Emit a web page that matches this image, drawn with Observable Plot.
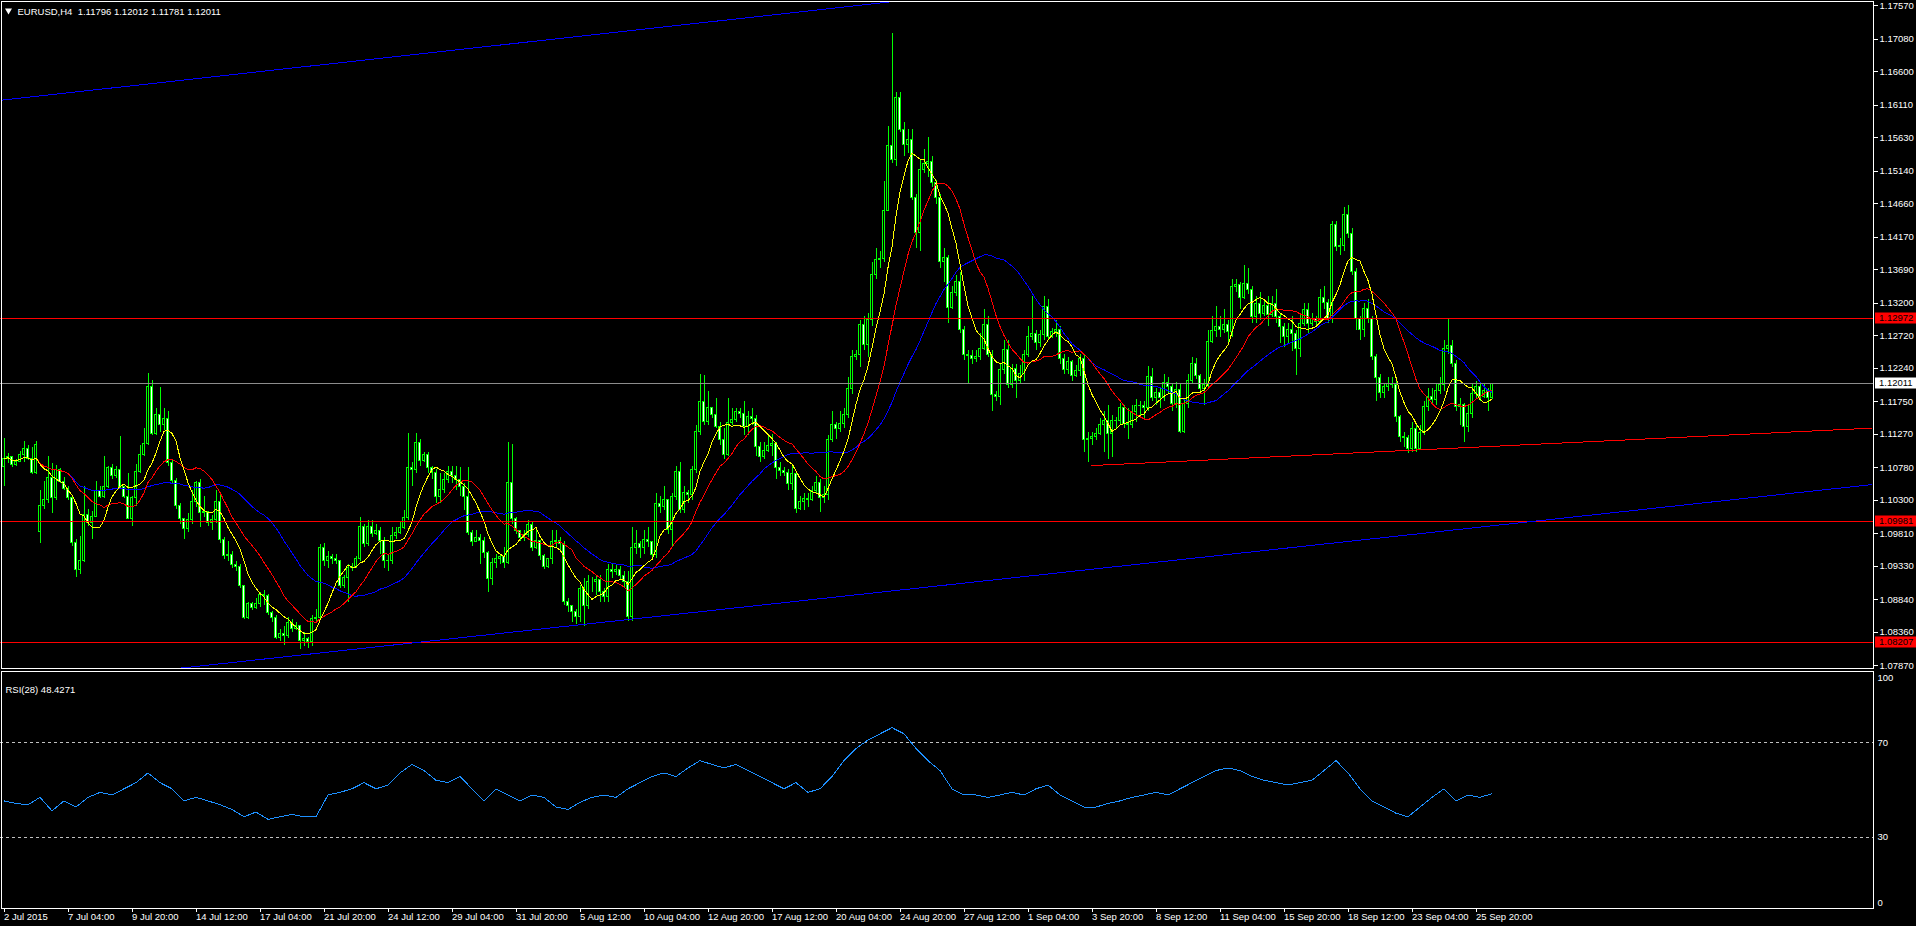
<!DOCTYPE html>
<html><head><meta charset="utf-8">
<script src="https://cdn.jsdelivr.net/npm/d3@7"></script>
<script src="https://cdn.jsdelivr.net/npm/@observablehq/plot@0.6"></script>
<style>
html,body{margin:0;padding:0;background:#000;overflow:hidden}
#wrap{position:relative;width:1916px;height:926px;background:#000}
#main{position:absolute;left:0;top:0;z-index:2}
#rsi{position:absolute;left:0;top:669px;z-index:1}
svg{display:block}
</style></head><body><div id="wrap"><div id="main"></div><div id="rsi"></div></div>
<script>
// ---------------- data (EURUSD H4, bar 0 = 2 Jul 2015 12:00) ----------------
const open = [1.1079,1.1091,1.1094,1.1082,1.1086,1.1096,1.1106,1.1091,1.1070,1.0984,
1.1021,1.1030,1.1062,1.1033,1.1074,1.1057,1.1047,1.1033,1.0967,1.0928,
1.0940,1.1008,1.0996,1.1006,1.1043,1.1035,1.1050,1.1077,1.1065,1.1075,
1.1050,1.1035,1.1003,1.1033,1.1072,1.1096,1.1113,1.1196,1.1128,1.1155,
1.1140,1.1150,1.1085,1.1059,1.1021,1.1003,1.0987,1.1001,1.1028,1.1055,
1.1011,1.1013,1.0996,1.1001,1.1028,1.0972,1.0948,1.0950,1.0935,1.0932,
1.0904,1.0857,1.0877,1.0872,1.0877,1.0891,1.0889,1.0864,1.0857,1.0828,
1.0833,1.0830,1.0850,1.0840,1.0845,1.0823,1.0826,1.0821,1.0855,1.0857,
1.0960,1.0940,1.0946,1.0944,1.0940,1.0904,1.0916,1.0930,1.0932,1.0943,
1.0991,1.0965,1.0991,1.0981,1.0985,1.0970,1.0941,1.0940,1.0977,1.0982,
1.0989,1.1004,1.1077,1.1074,1.1114,1.1087,1.1096,1.1077,1.1070,1.1035,
1.1045,1.1060,1.1072,1.1065,1.1060,1.1050,1.1035,1.0982,1.0968,1.0975,
1.0970,1.0953,1.0914,1.0938,1.0943,1.0946,1.0938,1.1055,1.1002,1.0985,
1.0975,1.0979,1.0994,1.0960,1.0970,1.0948,1.0932,1.0943,1.0968,1.0970,
1.0965,1.0880,1.0875,1.0866,1.0858,1.0900,1.0875,1.0910,1.0910,1.0913,
1.0895,1.0888,1.0927,1.0925,1.0928,1.0918,1.0910,1.0858,1.0960,1.0965,
1.0960,1.0972,1.0968,1.0950,1.1025,1.1020,1.1030,1.0986,1.1035,1.1072,
1.1016,1.1040,1.1037,1.1075,1.1130,1.1175,1.1145,1.1165,1.1155,1.1138,
1.1118,1.1096,1.1143,1.1148,1.1160,1.1157,1.1138,1.1152,1.1150,1.1108,
1.1093,1.1103,1.1110,1.1113,1.1078,1.1073,1.1070,1.1054,1.1068,1.1017,
1.1027,1.1032,1.1030,1.1043,1.1055,1.1034,1.1038,1.1118,1.1140,1.1135,
1.1142,1.1155,1.1194,1.1241,1.1243,1.1288,1.1258,1.1295,1.1361,1.1383,
1.1385,1.1455,1.1551,1.1531,1.1622,1.1575,1.1553,1.1560,1.1474,1.1423,
1.1516,1.1524,1.1527,1.1497,1.1474,1.1381,1.1386,1.1312,1.1334,1.1351,
1.1280,1.1243,1.1242,1.1238,1.1240,1.1253,1.1287,1.1243,1.1184,1.1182,
1.1221,1.1251,1.1199,1.1223,1.1205,1.1215,1.1243,1.1270,1.1275,1.1261,
1.1273,1.1314,1.1270,1.1277,1.1280,1.1238,1.1221,1.1233,1.1212,1.1220,
1.1238,1.1118,1.1120,1.1123,1.1128,1.1140,1.1147,1.1128,1.1146,1.1147,
1.1165,1.1142,1.1140,1.1160,1.1168,1.1169,1.1165,1.1211,1.1181,1.1187,
1.1180,1.1202,1.1196,1.1172,1.1192,1.1130,1.1172,1.1206,1.1230,1.1213,
1.1194,1.1200,1.1263,1.1279,1.1285,1.1280,1.1288,1.1277,1.1343,1.1346,
1.1328,1.1348,1.1339,1.1299,1.1319,1.1304,1.1316,1.1302,1.1319,1.1299,
1.1284,1.1270,1.1280,1.1275,1.1253,1.1289,1.1310,1.1289,1.1297,1.1292,
1.1328,1.1320,1.1297,1.1434,1.1402,1.1404,1.1449,1.1422,1.1365,1.1297,
1.1280,1.1311,1.1297,1.1241,1.1210,1.1187,1.1196,1.1201,1.1200,1.1152,
1.1123,1.1122,1.1105,1.1135,1.1106,1.1129,1.1167,1.1182,1.1178,1.1191,
1.1199,1.1253,1.1257,1.1231,1.1167,1.1170,1.1138,1.1157,1.1186,1.1196,
1.1182,1.1191,1.11796];
const high = [1.1121,1.1099,1.1095,1.1090,1.1101,1.1116,1.1111,1.1108,1.1116,1.1045,
1.1057,1.1094,1.1084,1.1081,1.1077,1.1064,1.1050,1.1035,1.0972,1.0977,
1.1050,1.1016,1.1013,1.1057,1.1050,1.1094,1.1079,1.1082,1.1079,1.1123,
1.1050,1.1069,1.1035,1.1082,1.1111,1.1135,1.1216,1.1206,1.1165,1.1196,
1.1165,1.1160,1.1088,1.1062,1.1025,1.1003,1.1010,1.1045,1.1057,1.1060,
1.1035,1.1013,1.1008,1.1045,1.1040,1.0975,1.0970,1.0955,1.0940,1.0935,
1.0905,1.0880,1.0880,1.0885,1.0895,1.0897,1.0892,1.0867,1.0860,1.0840,
1.0845,1.0857,1.0855,1.0850,1.0845,1.0835,1.0828,1.0860,1.0870,1.0965,
1.0967,1.0955,1.0950,1.0950,1.0940,1.0920,1.0935,1.0937,1.0948,1.1005,
1.0995,1.1000,1.1000,1.0995,1.0990,1.0975,1.0950,1.0990,1.0990,1.0998,
1.1015,1.1128,1.1085,1.1128,1.1120,1.1100,1.1100,1.1080,1.1075,1.1070,
1.1070,1.1080,1.1080,1.1080,1.1078,1.1055,1.1078,1.0985,1.0985,1.0980,
1.0975,1.0955,1.0945,1.0950,1.0950,1.0960,1.1115,1.1112,1.1005,1.0985,
1.0985,1.1000,1.0998,1.0985,1.0970,1.0950,1.0945,1.0985,1.0985,1.0975,
1.0970,1.0885,1.0875,1.0870,1.0905,1.0915,1.0920,1.0917,1.0920,1.0920,
1.0900,1.0935,1.0935,1.0935,1.0932,1.0925,1.0925,1.0990,1.0985,1.0970,
1.0985,1.0990,1.0970,1.1040,1.1035,1.1050,1.1030,1.1040,1.1080,1.1085,
1.1050,1.1045,1.1080,1.1140,1.1215,1.1213,1.1190,1.1165,1.1180,1.1145,
1.1135,1.1180,1.1165,1.1165,1.1165,1.1175,1.1160,1.1165,1.1155,1.1115,
1.1115,1.1125,1.1127,1.1115,1.1085,1.1078,1.1075,1.1080,1.1070,1.1035,
1.1040,1.1040,1.1050,1.1065,1.1060,1.1050,1.1125,1.1160,1.1145,1.1160,
1.1165,1.1210,1.1250,1.1250,1.1295,1.1300,1.1305,1.1380,1.1400,1.1395,
1.1499,1.1580,1.1717,1.1630,1.1630,1.1585,1.1575,1.1575,1.1480,1.1530,
1.1545,1.1563,1.1535,1.1500,1.1480,1.1400,1.1390,1.1345,1.1360,1.1365,
1.1285,1.1250,1.1250,1.1250,1.1275,1.1310,1.1300,1.1250,1.1190,1.1230,
1.1265,1.1265,1.1230,1.1230,1.1228,1.1250,1.1285,1.1330,1.1280,1.1280,
1.1330,1.1325,1.1283,1.1295,1.1285,1.1245,1.1240,1.1235,1.1228,1.1245,
1.1245,1.1130,1.1130,1.1135,1.1150,1.1160,1.1170,1.1155,1.1152,1.1172,
1.1170,1.1165,1.1170,1.1178,1.1175,1.1175,1.1226,1.1223,1.1195,1.1195,
1.1215,1.1210,1.1202,1.1203,1.1200,1.1180,1.1215,1.1240,1.1238,1.1215,
1.1208,1.1280,1.1300,1.1315,1.1300,1.1310,1.1295,1.1355,1.1355,1.1350,
1.1375,1.1370,1.1345,1.1330,1.1335,1.1325,1.1330,1.1330,1.1340,1.1305,
1.1290,1.1290,1.1300,1.1280,1.1305,1.1320,1.1320,1.1305,1.1300,1.1340,
1.1345,1.1325,1.1440,1.1440,1.1415,1.1460,1.1463,1.1430,1.1370,1.1300,
1.1320,1.1325,1.1300,1.1245,1.1215,1.1200,1.1210,1.1210,1.1205,1.1155,
1.1130,1.1125,1.1145,1.1140,1.1140,1.1175,1.1195,1.1195,1.1200,1.1210,
1.1265,1.1297,1.1265,1.1235,1.1180,1.1172,1.1170,1.1200,1.1205,1.1200,
1.1200,1.1195,1.12012];
const low = [1.1050,1.1084,1.1078,1.1080,1.1085,1.1086,1.1089,1.1068,1.1068,1.0967,
1.1016,1.1025,1.1011,1.1029,1.1055,1.1045,1.1030,1.0962,1.0916,1.0921,
1.0938,1.0991,1.0972,1.1006,1.1033,1.1033,1.1047,1.1060,1.1062,1.1047,
1.1033,1.1001,1.0991,1.1021,1.1069,1.1094,1.1111,1.1125,1.1125,1.1130,
1.1132,1.1080,1.1053,1.1016,1.0994,1.0972,1.0982,1.0994,1.1020,1.0990,
1.1005,1.0991,1.0986,1.0996,1.0967,1.0943,1.0940,1.0930,1.0925,1.0900,
1.0855,1.0855,1.0868,1.0870,1.0872,1.0875,1.0860,1.0850,1.0825,1.0823,
1.0817,1.0826,1.0836,1.0838,1.0810,1.0815,1.0812,1.0815,1.0850,1.0855,
1.0933,1.0930,1.0935,1.0935,1.0900,1.0900,1.0880,1.0925,1.0930,1.0940,
1.0960,1.0962,1.0975,1.0978,1.0950,1.0930,1.0925,1.0935,1.0973,1.0980,
1.0987,1.1000,1.1050,1.1070,1.1080,1.1085,1.1070,1.1060,1.1025,1.1025,
1.1040,1.1055,1.1055,1.1045,1.1035,1.1015,1.0978,1.0962,1.0968,1.0935,
1.0945,1.0895,1.0905,1.0930,1.0935,1.0930,1.0935,1.0995,1.0980,1.0970,
1.0970,1.0975,1.0955,1.0958,1.0942,1.0928,1.0930,1.0935,1.0960,1.0955,
1.0875,1.0865,1.0850,1.0848,1.0850,1.0845,1.0870,1.0895,1.0890,1.0880,
1.0880,1.0880,1.0915,1.0920,1.0912,1.0900,1.0852,1.0852,1.0950,1.0945,
1.0950,1.0960,1.0945,1.0945,1.1010,1.1015,1.0980,1.0960,1.1030,1.1010,
1.1010,1.1025,1.1030,1.1070,1.1125,1.1140,1.1140,1.1150,1.1135,1.1110,
1.1090,1.1095,1.1140,1.1145,1.1150,1.1125,1.1125,1.1140,1.1095,1.1085,
1.1090,1.1100,1.1095,1.1060,1.1065,1.1065,1.1045,1.1045,1.1010,1.1015,
1.1015,1.1020,1.1028,1.1040,1.1012,1.1025,1.1030,1.1115,1.1120,1.1130,
1.1135,1.1150,1.1185,1.1235,1.1225,1.1250,1.1240,1.1285,1.1355,1.1370,
1.1380,1.1455,1.1525,1.1520,1.1570,1.1535,1.1540,1.1470,1.1400,1.1395,
1.1510,1.1505,1.1490,1.1465,1.1370,1.1350,1.1290,1.1310,1.1330,1.1275,
1.1235,1.1201,1.1230,1.1232,1.1235,1.1250,1.1240,1.1160,1.1175,1.1170,
1.1215,1.1195,1.1195,1.1180,1.1200,1.1205,1.1240,1.1265,1.1250,1.1255,
1.1265,1.1265,1.1268,1.1270,1.1230,1.1215,1.1215,1.1205,1.1210,1.1212,
1.1100,1.1086,1.1110,1.1118,1.1125,1.1100,1.1090,1.1093,1.1135,1.1140,
1.1135,1.1120,1.1135,1.1145,1.1155,1.1150,1.1160,1.1175,1.1170,1.1165,
1.1175,1.1185,1.1160,1.1165,1.1128,1.1128,1.1165,1.1200,1.1208,1.1185,
1.1170,1.1195,1.1260,1.1270,1.1270,1.1275,1.1260,1.1270,1.1335,1.1310,
1.1325,1.1333,1.1290,1.1290,1.1295,1.1300,1.1285,1.1298,1.1290,1.1260,
1.1255,1.1260,1.1248,1.1213,1.1240,1.1285,1.1275,1.1285,1.1285,1.1290,
1.1310,1.1290,1.1290,1.1395,1.1390,1.1395,1.1415,1.1360,1.1280,1.1265,
1.1270,1.1290,1.1235,1.1175,1.1180,1.1180,1.1190,1.1195,1.1145,1.1115,
1.1108,1.1098,1.1100,1.1100,1.1103,1.1125,1.1160,1.1170,1.1170,1.1185,
1.1190,1.1245,1.1225,1.1160,1.1140,1.1115,1.1130,1.1150,1.1180,1.1175,
1.1180,1.1160,1.11781];
const close = [1.1091,1.1094,1.1082,1.1086,1.1096,1.1106,1.1091,1.1070,1.1111,1.1021,
1.1030,1.1062,1.1033,1.1074,1.1057,1.1047,1.1033,1.0967,1.0928,1.0940,
1.1008,1.0996,1.1006,1.1043,1.1035,1.1050,1.1077,1.1065,1.1075,1.1050,
1.1035,1.1003,1.1033,1.1072,1.1096,1.1113,1.1196,1.1128,1.1155,1.1140,
1.1150,1.1085,1.1059,1.1021,1.1003,1.0987,1.1001,1.1028,1.1055,1.1011,
1.1013,1.0996,1.1001,1.1028,1.0972,1.0948,1.0950,1.0935,1.0932,1.0904,
1.0857,1.0877,1.0872,1.0877,1.0891,1.0889,1.0864,1.0857,1.0828,1.0833,
1.0830,1.0850,1.0840,1.0845,1.0823,1.0826,1.0821,1.0855,1.0857,1.0960,
1.0940,1.0946,1.0944,1.0940,1.0904,1.0916,1.0930,1.0932,1.0943,1.0991,
1.0965,1.0991,1.0981,1.0985,1.0970,1.0941,1.0940,1.0977,1.0982,1.0989,
1.1004,1.1077,1.1074,1.1114,1.1087,1.1096,1.1077,1.1070,1.1035,1.1045,
1.1060,1.1072,1.1065,1.1060,1.1050,1.1035,1.0982,1.0968,1.0975,1.0970,
1.0953,1.0914,1.0938,1.0943,1.0946,1.0938,1.1055,1.1002,1.0985,1.0975,
1.0979,1.0994,1.0960,1.0970,1.0948,1.0932,1.0943,1.0968,1.0970,1.0965,
1.0880,1.0875,1.0866,1.0858,1.0900,1.0875,1.0910,1.0910,1.0913,1.0895,
1.0888,1.0927,1.0925,1.0928,1.0918,1.0910,1.0858,1.0960,1.0965,1.0960,
1.0972,1.0968,1.0950,1.1025,1.1020,1.1030,1.0986,1.1035,1.1072,1.1016,
1.1040,1.1037,1.1075,1.1130,1.1175,1.1145,1.1165,1.1155,1.1138,1.1118,
1.1096,1.1143,1.1148,1.1160,1.1157,1.1138,1.1152,1.1150,1.1108,1.1093,
1.1103,1.1110,1.1113,1.1078,1.1073,1.1070,1.1054,1.1068,1.1017,1.1027,
1.1032,1.1030,1.1043,1.1055,1.1034,1.1038,1.1118,1.1140,1.1135,1.1142,
1.1155,1.1194,1.1241,1.1243,1.1288,1.1258,1.1295,1.1361,1.1383,1.1385,
1.1455,1.1551,1.1531,1.1622,1.1575,1.1553,1.1560,1.1474,1.1423,1.1516,
1.1524,1.1527,1.1497,1.1474,1.1381,1.1386,1.1312,1.1334,1.1351,1.1280,
1.1243,1.1242,1.1238,1.1240,1.1253,1.1287,1.1243,1.1184,1.1182,1.1221,
1.1251,1.1199,1.1223,1.1205,1.1215,1.1243,1.1270,1.1275,1.1261,1.1273,
1.1314,1.1270,1.1277,1.1280,1.1238,1.1221,1.1233,1.1212,1.1220,1.1238,
1.1118,1.1120,1.1123,1.1128,1.1140,1.1147,1.1128,1.1146,1.1147,1.1165,
1.1142,1.1140,1.1160,1.1168,1.1169,1.1165,1.1211,1.1181,1.1187,1.1180,
1.1202,1.1196,1.1172,1.1192,1.1130,1.1172,1.1206,1.1230,1.1213,1.1194,
1.1200,1.1263,1.1279,1.1285,1.1280,1.1288,1.1277,1.1343,1.1346,1.1328,
1.1348,1.1339,1.1299,1.1319,1.1304,1.1316,1.1302,1.1319,1.1299,1.1284,
1.1270,1.1280,1.1275,1.1253,1.1289,1.1310,1.1289,1.1297,1.1292,1.1328,
1.1320,1.1297,1.1434,1.1402,1.1404,1.1449,1.1422,1.1365,1.1297,1.1280,
1.1311,1.1297,1.1241,1.1210,1.1187,1.1196,1.1201,1.1200,1.1152,1.1123,
1.1122,1.1105,1.1135,1.1106,1.1129,1.1167,1.1182,1.1178,1.1191,1.1199,
1.1253,1.1257,1.1231,1.1167,1.1170,1.1138,1.1157,1.1186,1.1196,1.1182,
1.1191,1.11796,1.12011];

// RSI(28) read every third bar (last value = last bar)
const rsiValue = [45.4,44.3,43.8,46.9,41.2,45.4,42.8,46.9,49.0,47.9,
50.5,53.1,57.2,53.1,50.5,45.4,46.9,45.4,43.8,41.8,
38.7,40.7,37.6,38.7,39.7,38.7,38.7,47.9,49.0,50.5,
53.1,50.5,52.1,57.2,60.8,58.2,54.1,53.1,55.7,50.5,
45.4,50.5,47.9,45.4,47.9,46.9,42.8,41.8,44.8,46.9,
47.9,46.9,50.5,53.1,55.7,57.2,55.7,59.3,62.4,60.8,
59.3,60.8,58.2,55.7,53.1,50.5,53.1,49.0,50.5,55.7,
62.4,67.5,71.1,73.7,76.3,73.7,67.5,62.4,58.2,50.5,
47.9,47.9,46.9,47.9,49.0,47.9,50.5,52.1,47.9,45.4,
42.8,42.8,44.3,45.4,46.9,47.9,49.0,47.9,50.5,53.1,
55.7,58.2,59.3,58.2,55.7,54.1,53.1,52.1,53.1,54.1,
58.2,62.4,57.2,50.5,45.4,42.8,40.2,38.7,42.8,46.9,
50.5,45.4,47.9,46.9,48.43];
const rsiBar = d3.range(0, 370, 3).concat([372]);

const redLevels = [1.12972, 1.09981, 1.08207];
const rsiLevels = [70, 30];
const priceTicks = [1.17570,1.17080,1.16600,1.16110,1.15630,1.15140,1.14660,1.14170,1.13690,1.13200,
1.12720,1.12240,1.11750,1.11270,1.10780,1.10300,1.09810,1.09330,1.08840,1.08360,1.07870];
const timeTickBar = d3.range(0, 369, 16);
const timeTickLabel = ["2 Jul 2015","7 Jul 04:00","9 Jul 20:00","14 Jul 12:00","17 Jul 04:00","21 Jul 20:00",
"24 Jul 12:00","29 Jul 04:00","31 Jul 20:00","5 Aug 12:00","10 Aug 04:00","12 Aug 20:00","17 Aug 12:00",
"20 Aug 04:00","24 Aug 20:00","27 Aug 12:00","1 Sep 04:00","3 Sep 20:00","8 Sep 12:00","11 Sep 04:00",
"15 Sep 20:00","18 Sep 12:00","23 Sep 04:00","25 Sep 20:00"];
// trend lines: anchor bars and prices
const upperTrendBar = [-1, 222], upperTrendPrice = [1.1618, 1.1763];
const lowerTrendBar = [0, 467], lowerTrendPrice = [1.0755, 1.1053];
const supportBar = [272, 467], supportPrice = [1.1081, 1.1136];
const maPeriods = {fast: 8, mid: 17, slow: 34};
const symbolTitle = "EURUSD,H4  1.11796 1.12012 1.11781 1.12011";
const rsiTitle = "RSI(28) 48.4271";

// ---------------- rendering ----------------
const FONT = '"Liberation Sans", Arial, sans-serif';
const XD = [-0.875, 467.375];
const XR = [0, 1873];
const bars = close.map((c, i) => ({i, o: open[i], h: high[i], l: low[i], c}));
const last = bars[bars.length - 1];
const pairs = (bx, py) => bx.map((b, k) => ({b, p: py[k]}));
const crisp = "crispEdges";

const main = Plot.plot({
  width: 1916, height: 669,
  marginTop: 1, marginLeft: 1, marginBottom: 1, marginRight: 43,
  style: {background: "#000", color: "#fff", fontFamily: FONT, fontSize: "9.5px", overflow: "visible"},
  x: {type: "linear", domain: XD, range: XR, axis: null},
  y: {type: "linear", domain: [1.0787, 1.1757], range: [665, 5.3], label: null},
  marks: [
    Plot.ruleX(bars, {x: "i", y1: d => Math.min(d.l, d.o, d.c), y2: d => Math.max(d.h, d.o, d.c), stroke: "#00ff00", strokeWidth: 1, shapeRendering: crisp}),
    Plot.rect(bars, {x1: d => d.i - 0.25, x2: d => d.i + 0.25, y1: "o", y2: "c",
      fill: d => d.c < d.o ? "#ffffff" : "#000000", stroke: "#00ff00", strokeWidth: 1, shapeRendering: crisp}),
    Plot.lineY(bars, Plot.windowY({k: maPeriods.slow, anchor: "end", reduce: "mean"}, {x: "i", y: "c", stroke: "#0000ff", strokeWidth: 1, shapeRendering: crisp})),
    Plot.lineY(bars, Plot.windowY({k: maPeriods.mid, anchor: "end", reduce: "mean"}, {x: "i", y: "c", stroke: "#ff0000", strokeWidth: 1, shapeRendering: crisp})),
    Plot.lineY(bars, Plot.windowY({k: maPeriods.fast, anchor: "end", reduce: "mean"}, {x: "i", y: "c", stroke: "#ffff00", strokeWidth: 1, shapeRendering: crisp})),
    Plot.ruleY(redLevels, {y: d => d, x1: XD[0], x2: XD[1], stroke: "#ff0000", strokeWidth: 1, shapeRendering: crisp}),
    Plot.ruleY([last.c], {y: d => d, x1: XD[0], x2: XD[1], stroke: "#8c8c8c", strokeWidth: 1, shapeRendering: crisp}),
    Plot.line(pairs(upperTrendBar, upperTrendPrice), {x: "b", y: "p", stroke: "#0000ff", strokeWidth: 1, clip: true, shapeRendering: crisp}),
    Plot.line(pairs(lowerTrendBar, lowerTrendPrice), {x: "b", y: "p", stroke: "#0000ff", strokeWidth: 1, clip: true, shapeRendering: crisp}),
    Plot.line(pairs(supportBar, supportPrice), {x: "b", y: "p", stroke: "#ff0000", strokeWidth: 1, clip: true, shapeRendering: crisp}),
    Plot.frame({stroke: "#ffffff", shapeRendering: crisp}),
    Plot.axisY(priceTicks, {anchor: "right", tickSize: 4, tickPadding: 2, tickFormat: d => d.toFixed(5), label: null, shapeRendering: crisp}),
    Plot.dot([0], {frameAnchor: "top-left", dx: 7, dy: 9, symbol: "triangle", rotate: 180, r: 2.6, fill: "#ffffff", stroke: null}),
    Plot.text([symbolTitle], {frameAnchor: "top-left", dx: 16, dy: 10, text: d => d, textAnchor: "start", lineAnchor: "middle", fill: "#ffffff"})
  ]
});
document.getElementById("main").appendChild(main);

// price tags on the right axis
const ys = main.scale("y");
const svgM = d3.select(main);
function tag(v, bg, fg) {
  const y = Math.round(ys.apply(v));
  const g = svgM.append("g").attr("text-anchor", "start");
  g.append("rect").attr("x", 1875).attr("y", y - 5.5).attr("width", 41).attr("height", 11).attr("fill", bg);
  g.append("text").attr("x", 1879).attr("y", y).attr("dy", "0.34em").attr("text-anchor", "start").attr("fill", fg).text(v.toFixed(5));
}
redLevels.forEach(v => tag(v, "#ff0000", "#000000"));
tag(last.c, "#ffffff", "#000000");

const rsiPlot = Plot.plot({
  width: 1916, height: 257,
  marginTop: 2, marginLeft: 1, marginBottom: 18, marginRight: 43,
  style: {background: "transparent", color: "#fff", fontFamily: FONT, fontSize: "9.5px"},
  x: {type: "linear", domain: XD, range: XR},
  y: {type: "linear", domain: [0, 100], range: [239, 2], axis: null},
  marks: [
    Plot.ruleY(rsiLevels, {y: d => d, x1: XD[0], x2: XD[1], stroke: "#c0c0c0", strokeDasharray: "3,3", strokeWidth: 1, shapeRendering: crisp}),
    Plot.line(rsiValue, {x: (d, k) => rsiBar[k], y: d => d, stroke: "#1e90ff", strokeWidth: 1, shapeRendering: crisp}),
    Plot.frame({stroke: "#ffffff", shapeRendering: crisp}),
    Plot.text([100], {y: d => d, text: d => String(d), frameAnchor: "right", dx: 4, dy: 6, textAnchor: "start", fill: "#fff"}),
    Plot.text(rsiLevels, {y: d => d, text: d => String(d), frameAnchor: "right", dx: 4, textAnchor: "start", fill: "#fff"}),
    Plot.text([0], {y: d => d, text: d => String(d), frameAnchor: "right", dx: 4, dy: -6, textAnchor: "start", fill: "#fff"}),
    Plot.text([rsiTitle], {frameAnchor: "top-left", dx: 4, dy: 18, text: d => d, textAnchor: "start", lineAnchor: "middle", fill: "#fff"}),
    Plot.axisX(timeTickBar, {anchor: "bottom", tickSize: 4, tickPadding: 1, textAnchor: "start", dx: 0,
      tickFormat: d => timeTickLabel[timeTickBar.indexOf(d)], label: null, shapeRendering: crisp})
  ]
});
document.getElementById("rsi").appendChild(rsiPlot);
</script></body></html>
